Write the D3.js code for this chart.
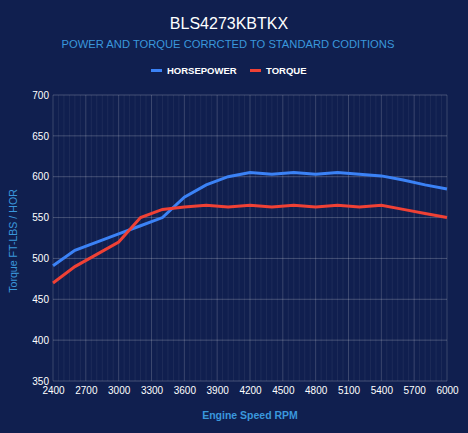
<!DOCTYPE html>
<html>
<head>
<meta charset="utf-8">
<script src="https://cdn.jsdelivr.net/npm/d3@7"></script>
<style>
  html, body { margin: 0; padding: 0; background: #101f4f; }
  svg { display: block; font-family: "Liberation Sans", Arial, sans-serif; }
</style>
</head>
<body>
<div id="chart"></div>
<script>
const rpm = [2400, 2600, 2800, 3000, 3200, 3400, 3600, 3800, 4000, 4200,
    4400, 4600, 4800, 5000, 5200, 5400, 5600, 5800, 6000];
const horsepower = [491, 510, 520, 530, 540, 550, 575, 590, 600, 605,
    603, 605, 603, 605, 603, 601, 596, 590, 585];
const torque = [470, 490, 505, 520, 550, 560, 563, 565, 563, 565,
    563, 565, 563, 565, 563, 565, 560, 555, 550];
const xTicks = [2400, 2700, 3000, 3300, 3600, 3900, 4200, 4500, 4800, 5100, 5400, 5700, 6000];
const yTicks = [350, 400, 450, 500, 550, 600, 650, 700];

const width = 468;
const height = 433;
const margin = { top: 95, right: 21, bottom: 52, left: 53 };

const svg = d3.select('#chart')
    .append('svg')
    .attr('width', width)
    .attr('height', height);

svg.append('rect')
    .attr('width', width)
    .attr('height', height)
    .attr('fill', '#101f4f');

const x = d3.scaleLinear()
    .domain([2400, 6000])
    .range([margin.left, width - margin.right]);
const y = d3.scaleLinear()
    .domain([350, 700])
    .range([height - margin.bottom, margin.top]);

// minor vertical grid
const grid = svg.append('g').attr('class', 'grid');
grid.selectAll('.minor')
    .data(d3.range(2400, 6001, 50))
    .enter()
    .append('line')
    .attr('x1', (d) => x(d))
    .attr('x2', (d) => x(d))
    .attr('y1', y(700))
    .attr('y2', y(350))
    .attr('stroke', '#ffffff')
    .attr('stroke-opacity', 0.06);

grid.selectAll('.major')
    .data(xTicks)
    .enter()
    .append('line')
    .attr('x1', (d) => x(d))
    .attr('x2', (d) => x(d))
    .attr('y1', y(700))
    .attr('y2', y(350))
    .attr('stroke', '#ffffff')
    .attr('stroke-opacity', 0.13);

grid.selectAll('.hline')
    .data(yTicks)
    .enter()
    .append('line')
    .attr('x1', x(2400))
    .attr('x2', x(6000))
    .attr('y1', (d) => y(d))
    .attr('y2', (d) => y(d))
    .attr('stroke', '#ffffff')
    .attr('stroke-opacity', 0.22);

// axes
const yAxis = d3.axisLeft(y).tickValues(yTicks).tickSize(0).tickPadding(4);
svg.append('g')
    .attr('transform', `translate(${margin.left}, 0)`)
    .call(yAxis)
    .call((g) => g.select('.domain').remove())
    .selectAll('text')
    .attr('fill', '#ffffff')
    .attr('font-size', 10)
    .attr('font-family', '"Liberation Sans", Arial, sans-serif');

const xAxis = d3.axisBottom(x).tickValues(xTicks).tickSize(0).tickPadding(6).tickFormat(d3.format('d'));
svg.append('g')
    .attr('transform', `translate(0, ${height - margin.bottom})`)
    .call(xAxis)
    .call((g) => g.select('.domain').remove())
    .selectAll('text')
    .attr('fill', '#ffffff')
    .attr('font-size', 10)
    .attr('font-family', '"Liberation Sans", Arial, sans-serif');

// lines
const line = d3.line()
    .x((d) => x(d[0]))
    .y((d) => y(d[1]));

svg.append('path')
    .datum(rpm.map((r, i) => [r, horsepower[i]]))
    .attr('d', line)
    .attr('fill', 'none')
    .attr('stroke', '#3b82f6')
    .attr('stroke-width', 3);

svg.append('path')
    .datum(rpm.map((r, i) => [r, torque[i]]))
    .attr('d', line)
    .attr('fill', 'none')
    .attr('stroke', '#ef4135')
    .attr('stroke-width', 3);

// titles
svg.append('text')
    .attr('x', 229)
    .attr('y', 29)
    .attr('text-anchor', 'middle')
    .attr('fill', '#ffffff')
    .attr('font-size', 16)
    .text('BLS4273KBTKX');

svg.append('text')
    .attr('x', 228)
    .attr('y', 48)
    .attr('text-anchor', 'middle')
    .attr('fill', '#3a97dc')
    .attr('font-size', 11.2)
    .text('POWER AND TORQUE CORRCTED TO STANDARD CODITIONS');

// legend
const legendItems = [
    { label: 'HORSEPOWER', color: '#3b82f6', x: 150 },
    { label: 'TORQUE', color: '#ef4135', x: 249 }
];
const legend = svg.append('g').attr('class', 'legend');
legendItems.forEach((item) => {
    legend.append('rect')
        .attr('x', item.x + 1)
        .attr('y', 69)
        .attr('width', 11)
        .attr('height', 3)
        .attr('fill', item.color);
    legend.append('text')
        .attr('x', item.x + 17)
        .attr('y', 73.5)
        .attr('fill', '#ffffff')
        .attr('font-size', 9.5)
        .attr('font-weight', 'bold')
        .text(item.label);
});

svg.append('text')
    .attr('transform', `translate(17, 241) rotate(-90)`)
    .attr('text-anchor', 'middle')
    .attr('fill', '#3a97dc')
    .attr('font-size', 10.6)
    .text('Torque FT-LBS / HOR');

svg.append('text')
    .attr('x', (x(2400) + x(6000)) / 2)
    .attr('y', 419)
    .attr('text-anchor', 'middle')
    .attr('fill', '#3a97dc')
    .attr('font-size', 10.5)
    .attr('font-weight', 'bold')
    .text('Engine Speed RPM');
</script>
</body>
</html>
